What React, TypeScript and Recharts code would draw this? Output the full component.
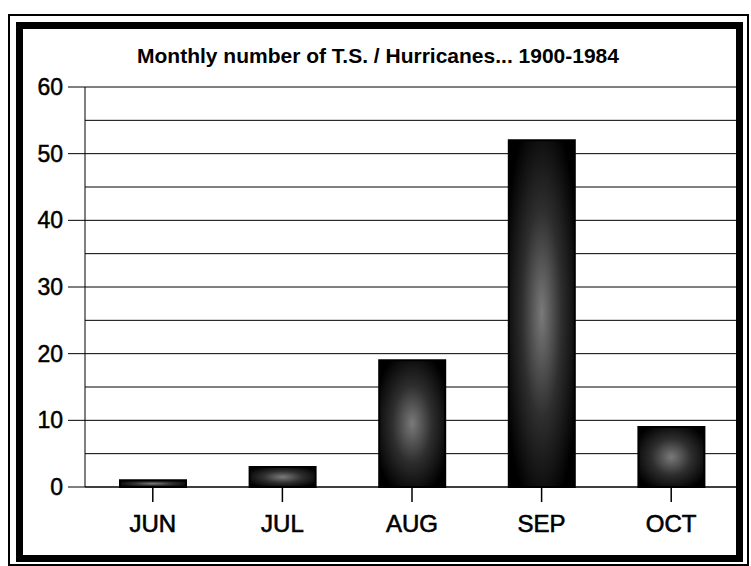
import { BarChart, Bar, XAxis, YAxis, CartesianGrid } from "recharts";

const months = ["JUN", "JUL", "AUG", "SEP", "OCT"];
const storms = [1, 3, 19, 52, 9];
const yTicks = [0, 10, 20, 30, 40, 50, 60];
const gridValues = [0, 5, 10, 15, 20, 25, 30, 35, 40, 45, 50, 55, 60];

const data = months.map((m, i) => ({ month: m, count: storms[i] }));

const font = "'Liberation Sans', Arial, sans-serif";

export default function App() {
  return (
    <div
      style={{
        position: "absolute",
        left: 0,
        top: 0,
        width: 751,
        height: 566,
        background: "#fff",
        fontFamily: font,
      }}
    >
      {/* double frame */}
      <div
        style={{
          position: "absolute",
          left: 8,
          top: 14,
          width: 737,
          height: 548,
          border: "2px solid #000",
        }}
      />
      <div
        style={{
          position: "absolute",
          left: 16,
          top: 22,
          width: 713,
          height: 526,
          border: "7px solid #000",
        }}
      />
      <div
        style={{
          position: "absolute",
          left: 0,
          top: 44,
          width: 756,
          textAlign: "center",
          fontWeight: "bold",
          fontSize: 21,
          color: "#000",
        }}
      >
        Monthly number of T.S. / Hurricanes... 1900-1984
      </div>
      <div style={{ position: "absolute", left: 0, top: 0 }}>
        <BarChart
          width={751}
          height={566}
          data={data}
          margin={{ top: 87, right: 15, left: 0, bottom: 0 }}
          barCategoryGap={32}
        >
          <defs>
            <radialGradient id="barFill" cx="0.5" cy="0.5" r="0.6">
              <stop offset="0%" stopColor="#7a7a7a" />
              <stop offset="50%" stopColor="#2e2e2e" />
              <stop offset="100%" stopColor="#000" />
            </radialGradient>
          </defs>
          <CartesianGrid
            vertical={false}
            horizontalValues={gridValues}
            stroke="#000"
            strokeWidth={1}
          />
          <XAxis
            dataKey="month"
            padding={{ left: 3, right: 0 }}
            height={79}
            tickSize={15}
            tickMargin={13}
            stroke="#000"
            tickLine={{ stroke: "#000", strokeWidth: 1.5 }}
            tick={{ fill: "#000", stroke: "#000", strokeWidth: 0.6, fontSize: 24, fontFamily: font }}
          />
          <YAxis
            domain={[0, 60]}
            ticks={yTicks}
            width={85}
            tickSize={17}
            tickMargin={5}
            stroke="#000"
            tick={{ fill: "#000", stroke: "#000", strokeWidth: 0.5, fontSize: 23, fontFamily: font }}
          />
          <Bar
            dataKey="count"
            fill="url(#barFill)"
            stroke="#000"
            strokeWidth={2}
            isAnimationActive={false}
          />
        </BarChart>
      </div>
    </div>
  );
}
